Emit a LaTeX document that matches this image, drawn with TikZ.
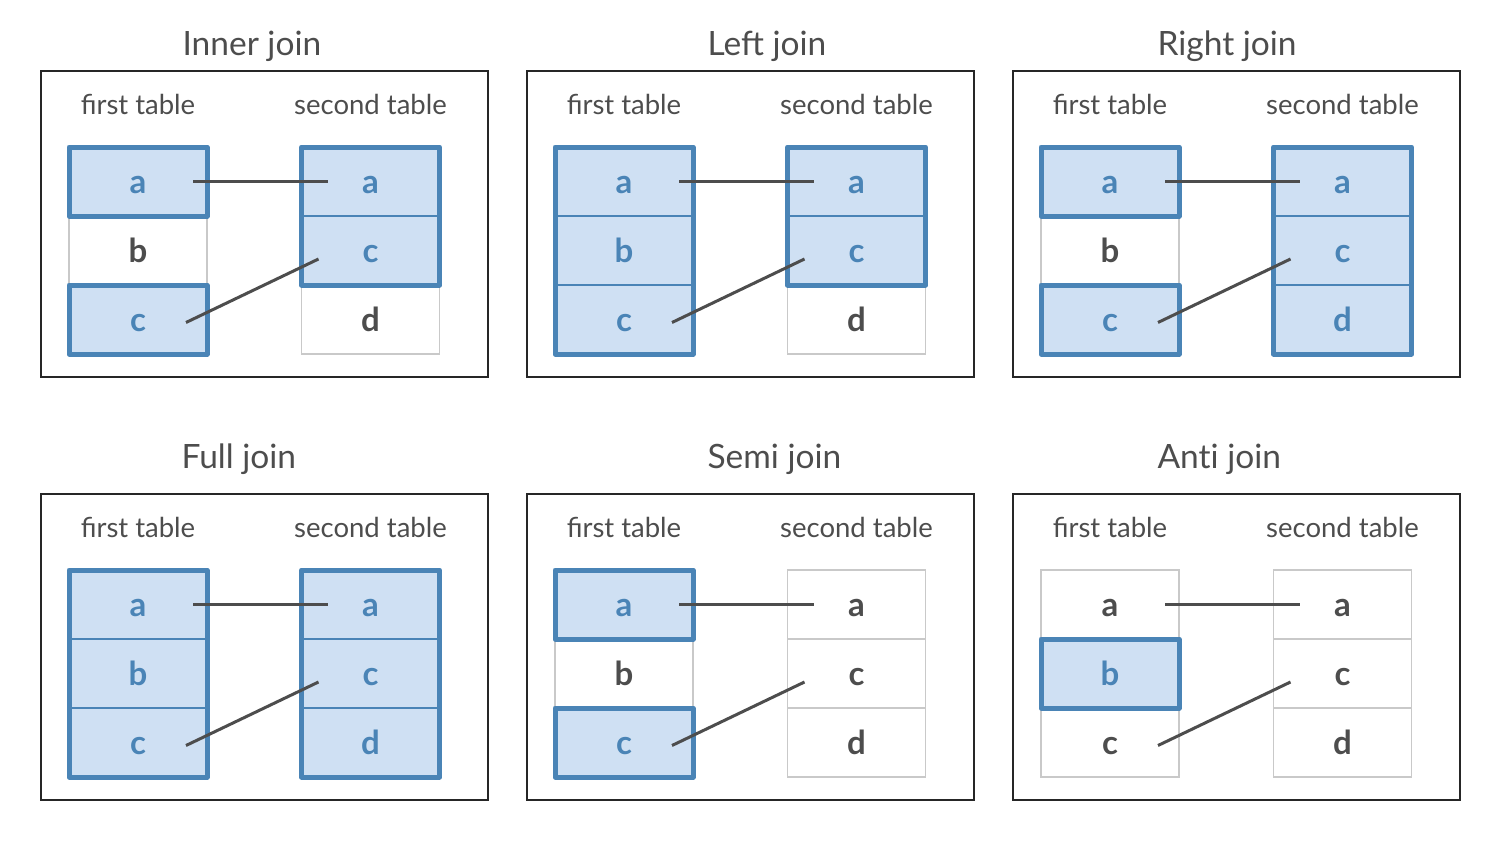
\documentclass[tikz,border=0pt]{standalone}
\usepackage{fontspec}
\setmainfont{Lato}
\usetikzlibrary{positioning}
\definecolor{hiblue}{HTML}{4A84B6}
\definecolor{hifill}{HTML}{CFE0F3}
\definecolor{cellgray}{HTML}{C9C9C9}
\definecolor{textgray}{HTML}{4D4D4D}

\begin{document}
\begin{tikzpicture}[x=1pt, y=-1pt,
    frame/.style={draw=black!85, line width=1.5pt},
    title/.style={anchor=base west, text=textgray, font=\fontsize{33.5}{33.5}\selectfont},
    head/.style={anchor=base, text=textgray, font=\fontsize{27.5}{27.5}\selectfont},
    lo/.style={draw=cellgray, line width=1.5pt, minimum width=138pt, minimum height=69pt,
      inner sep=0pt, outer sep=0pt, text height=23pt, text depth=0pt, text=textgray,
      font=\bfseries\fontsize{33}{33}\selectfont},
    hi/.style={lo, draw=hiblue, fill=hifill, text=hiblue},
    group/.style={draw=hiblue, line width=5pt, line join=round},
    link/.style={draw=textgray, line width=3pt}]

    \useasboundingbox (0,0) rectangle (1500,843);

    % panels: frame, titles and the two tables
    \foreach \p/\px/\py/\ttl/\tx/\ty/\la/\lb/\lc/\ra/\rc/\rd in {
        in/41/71/Inner join/138/-15/hi/lo/hi/hi/hi/lo,
        le/527/71/Left join/177/-15/hi/hi/hi/hi/hi/lo,
        ri/1013/71/Right join/141/-15/hi/lo/hi/hi/hi/hi,
        fu/41/494/Full join/137/-26/hi/hi/hi/hi/hi/hi,
        se/527/494/Semi join/177/-26/hi/lo/hi/lo/lo/lo,
        an/1013/494/Ant\kern0pt i join/141/-26/lo/hi/lo/lo/lo/lo} {
      \begin{scope}[shift={(\px,\py)}]
        \draw[frame] (0,0) rectangle (447,306);
        \node[title] (\p T) at (\tx,\ty) {\ttl};
        \node[head] (\p H1) at (97,43) {first table};
        \node[head] (\p H2) at (329.5,43) {second table};

        \node[\la] (\p La) at (97,110.5) {a};
        \node[\lb, below=0pt of \p La] (\p Lb) {b};
        \node[\lc, below=0pt of \p Lb] (\p Lc) {c};

        \node[\ra] (\p Ra) at (329.5,110.5) {a};
        \node[\rc, below=0pt of \p Ra] (\p Rc) {c};
        \node[\rd, below=0pt of \p Rc] (\p Rd) {d};
      \end{scope}
    }

    % kept rows
    \draw[group]
        (inLa.north west) rectangle (inLa.south east)
        (inLc.north west) rectangle (inLc.south east)
        (inRa.north west) rectangle (inRc.south east)
        (leLa.north west) rectangle (leLc.south east)
        (leRa.north west) rectangle (leRc.south east)
        (riLa.north west) rectangle (riLa.south east)
        (riLc.north west) rectangle (riLc.south east)
        (riRa.north west) rectangle (riRd.south east)
        (fuLa.north west) rectangle (fuLc.south east)
        (fuRa.north west) rectangle (fuRd.south east)
        (seLa.north west) rectangle (seLa.south east)
        (seLc.north west) rectangle (seLc.south east)
        (anLb.north west) rectangle (anLb.south east);

    % matches
    \foreach \p in {in,le,ri,fu,se,an} {
      \draw[link] ([xshift=-14pt]\p La.east) -- ([xshift=26pt]\p Ra.west);
      \draw[link] ([shift={(-21,3)}]\p Lc.east) -- ([shift={(17,8.5)}]\p Rc.west);
    }

\end{tikzpicture}
\end{document}
